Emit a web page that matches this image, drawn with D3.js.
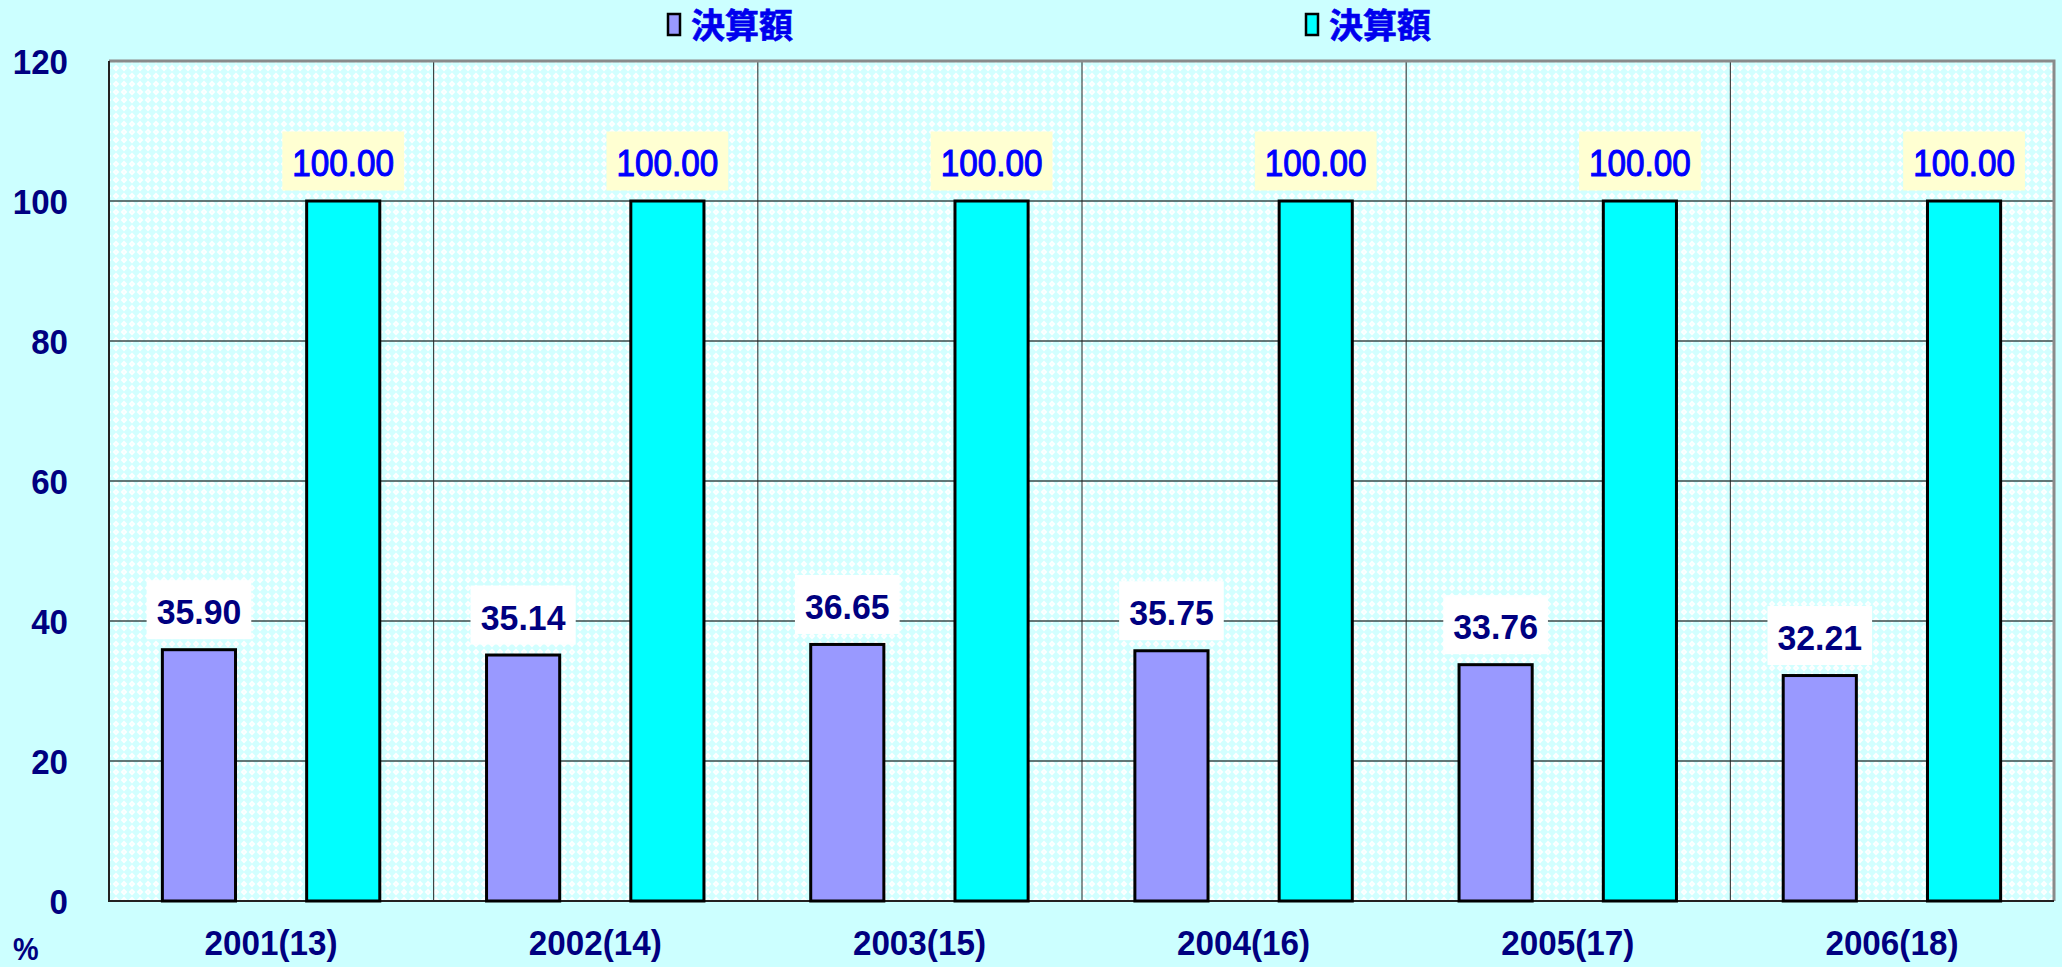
<!DOCTYPE html>
<html><head><meta charset="utf-8">
<script src="https://cdn.jsdelivr.net/npm/d3@7"></script>
<style>
html,body{margin:0;padding:0;background:#CCFFFF;}
svg{display:block;}
</style></head>
<body>
<script>
const categories = ["2001(13)","2002(14)","2003(15)","2004(16)","2005(17)","2006(18)"];
const seriesNames = ["決算額","決算額"];
const seriesA = [35.90,35.14,36.65,35.75,33.76,32.21];
const seriesB = [100.00,100.00,100.00,100.00,100.00,100.00];
const yTicks = [0,20,40,60,80,100,120];
const seriesColors = ["#9999FF","#00FFFF"];

const W = 2062, H = 967;
const plot = {left:109, right:2054, top:61, bottom:901};

const svg = d3.select("body").append("svg").attr("width",W).attr("height",H);
svg.append("rect").attr("width",W).attr("height",H).attr("fill","#CCFFFF");

const defs = svg.append("defs");
const pat = defs.append("pattern").attr("id","pat").attr("patternUnits","userSpaceOnUse")
  .attr("width",8).attr("height",8);
pat.append("rect").attr("width",8).attr("height",8).attr("fill","#D2FFFF");
pat.append("polygon").attr("points","4,0.6 7.4,4 4,7.4 0.6,4").attr("fill","#FFFFFF");
pat.append("rect").attr("x",3.2).attr("y",3.2).attr("width",1.6).attr("height",1.6).attr("fill","#EEFFFF");

const y = d3.scaleLinear().domain([0,120]).range([plot.bottom, plot.top]);
const x = d3.scaleBand().domain(categories).range([plot.left, plot.right]).padding(0);
const xs = d3.scaleBand().domain([0,1]).range([0, x.bandwidth()]).paddingInner(0.493).paddingOuter(0.37);

// plot background
svg.append("rect").attr("x",plot.left).attr("y",plot.top)
  .attr("width",plot.right-plot.left).attr("height",plot.bottom-plot.top)
  .attr("fill","url(#pat)");

// horizontal gridlines
svg.append("g").selectAll("line").data(yTicks.filter(d=>d>0 && d<120)).join("line")
  .attr("x1",plot.left).attr("x2",plot.right)
  .attr("y1",d=>y(d)).attr("y2",d=>y(d))
  .attr("stroke","#3a4a4a").attr("stroke-width",1.5);

// vertical gridlines at category boundaries
svg.append("g").selectAll("line").data(categories.slice(1)).join("line")
  .attr("x1",d=>x(d)+0.5).attr("x2",d=>x(d)+0.5)
  .attr("y1",plot.top).attr("y2",plot.bottom)
  .attr("stroke","#222").attr("stroke-width",1);

// plot border (gray top/right)
svg.append("path")
  .attr("d",`M${plot.left},${plot.top} H${plot.right} V${plot.bottom}`)
  .attr("fill","none").attr("stroke","#8a8a8a").attr("stroke-width",3);
// left and bottom axis lines
svg.append("path")
  .attr("d",`M${plot.left},${plot.top} V${plot.bottom} H${plot.right}`)
  .attr("fill","none").attr("stroke","#222").attr("stroke-width",2);

// bars
const series = [seriesA, seriesB];
series.forEach((vals,si)=>{
  svg.append("g").selectAll("rect").data(vals).join("rect")
    .attr("x",(d,i)=>x(categories[i])+xs(si))
    .attr("y",d=>y(d))
    .attr("width",xs.bandwidth())
    .attr("height",d=>plot.bottom-y(d))
    .attr("fill",seriesColors[si])
    .attr("stroke","#000").attr("stroke-width",3);
});

// data labels
const labelStyle = [
  {fill:"#000080", box:"#FFFFFF", weight:"bold", size:36, sx:0.94, sw:0},
  {fill:"#0000FF", box:"#FFFFD2", weight:"normal", size:37, sx:0.9, sw:1.1}
];
series.forEach((vals,si)=>{
  const st = labelStyle[si];
  const g = svg.append("g");
  vals.forEach((v,i)=>{
    const cx = x(categories[i]) + xs(si) + xs.bandwidth()/2;
    const base = y(v) - 25.5;
    const lg = g.append("g");
    const rect = lg.append("rect");
    const t = lg.append("text")
      .attr("transform",`translate(${cx},${base}) scale(${st.sx},1)`)
      .attr("text-anchor","middle")
      .attr("font-family","'Liberation Sans', Arial, sans-serif")
      .attr("font-weight",st.weight).attr("font-size",st.size)
      .attr("fill",st.fill)
      .attr("stroke",st.sw? st.fill : "none").attr("stroke-width",st.sw)
      .text(v.toFixed(2));
    const w = t.node().getBBox().width*st.sx;
    rect.attr("x",cx - w/2 - 10).attr("y",base-44).attr("width",w+20).attr("height",59)
      .attr("fill",st.box);
  });
});

// y axis tick labels
svg.append("g").selectAll("text").data(yTicks).join("text")
  .attr("transform",d=>`translate(68,${y(d)+13}) scale(0.92,1)`)
  .attr("text-anchor","end")
  .attr("font-family","'Liberation Sans', Arial, sans-serif")
  .attr("font-weight","bold").attr("font-size",36).attr("fill","#000080")
  .text(d=>d);

// x axis labels
svg.append("g").selectAll("text").data(categories).join("text")
  .attr("transform",d=>`translate(${x(d)+x.bandwidth()/2},955) scale(0.95,1)`)
  .attr("text-anchor","middle")
  .attr("font-family","'Liberation Sans', Arial, sans-serif")
  .attr("font-weight","bold").attr("font-size",35).attr("fill","#000080")
  .text(d=>d);

// % unit
svg.append("text").attr("transform","translate(13,960) scale(0.9,1)")
  .attr("font-family","'Liberation Sans', Arial, sans-serif")
  .attr("font-weight","bold").attr("font-size",32).attr("fill","#000080").text("%");

// legend
const legendX = [668, 1306];
seriesNames.forEach((name,si)=>{
  const lx = legendX[si];
  svg.append("rect").attr("x",lx).attr("y",14).attr("width",12).attr("height",21)
    .attr("fill",seriesColors[si]).attr("stroke","#000").attr("stroke-width",2.5);
  svg.append("text").attr("x",lx+23).attr("y",38)
    .attr("font-family","'Noto Sans CJK JP', sans-serif")
    .attr("font-weight","bold").attr("font-size",34).attr("fill","#0000EE")
    .attr("stroke","#0000EE").attr("stroke-width",0.6)
    .text(name);
});
</script>
</body></html>
